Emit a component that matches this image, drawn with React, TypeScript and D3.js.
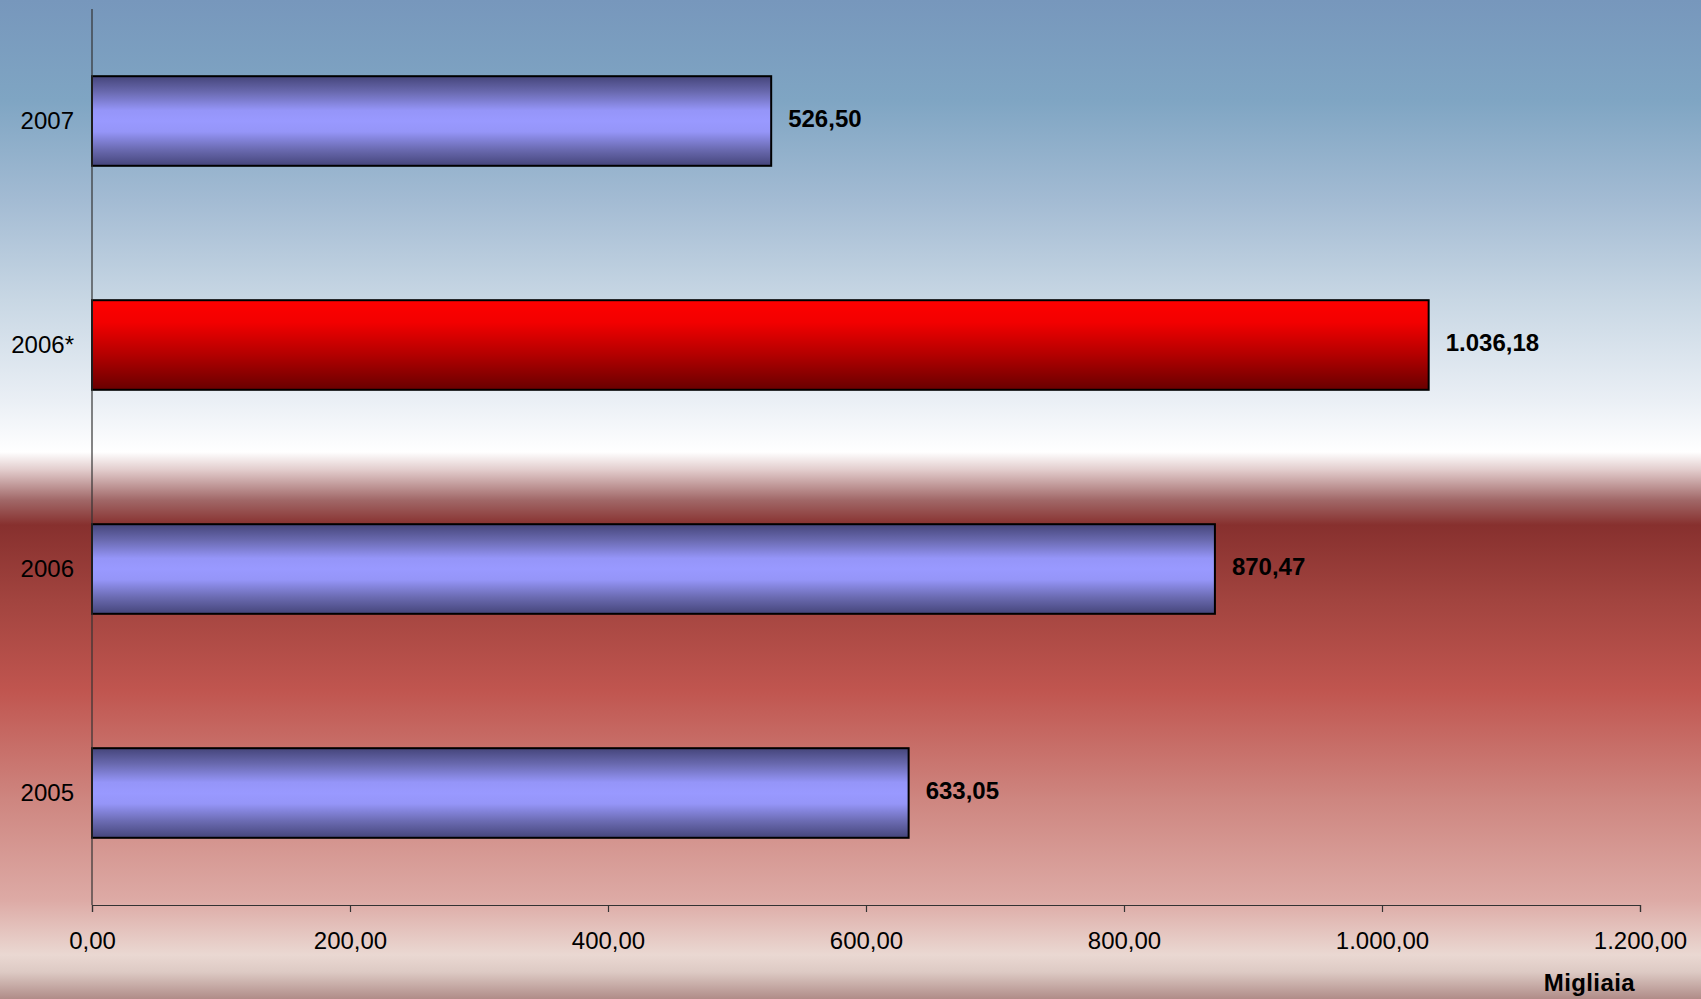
import React, { useEffect, useRef } from 'react';
import * as d3 from 'd3';

const categories = ['2007', '2006*', '2006', '2005'];
const values = [526.5, 1036.18, 870.47, 633.05];
const highlighted = ['2006*'];
const xTicks = [0, 200, 400, 600, 800, 1000, 1200];
const unitLabel = 'Migliaia';

const WIDTH = 1701;
const HEIGHT = 999;
const FONT = '"Liberation Sans", Arial, Helvetica, sans-serif';

// Italian number format: 1.036,18
const itFormat = d3.formatLocale({
  decimal: ',',
  thousands: '.',
  grouping: [3],
  currency: ['€', ''],
}).format(',.2f');

const BG_STOPS: [number, string][] = [
  [0, '#7797bc'],
  [100, '#7fa5c3'],
  [200, '#a3bbd3'],
  [300, '#c8d7e4'],
  [400, '#eaeff5'],
  [452, '#ffffff'],
  [470, '#e2cccc'],
  [500, '#a16868'],
  [525, '#87302e'],
  [600, '#a2443f'],
  [690, '#c0554f'],
  [800, '#ce8680'],
  [900, '#ddaaa5'],
  [955, '#ead8d2'],
  [972, '#ddcac4'],
  [999, '#b08c88'],
];

const App: React.FC = () => {
  const ref = useRef<SVGSVGElement>(null);

  useEffect(() => {
    if (!ref.current) return;
    const svg = d3.select(ref.current);
    svg.selectAll('*').remove();

    const margin = { top: 9, right: 61, bottom: 94, left: 92 };
    const innerW = WIDTH - margin.left - margin.right;
    const innerH = HEIGHT - margin.top - margin.bottom;

    const defs = svg.append('defs');

    const bg = defs
      .append('linearGradient')
      .attr('id', 'bg-grad')
      .attr('x1', 0)
      .attr('x2', 0)
      .attr('y1', 0)
      .attr('y2', 1);
    BG_STOPS.forEach(([y, c]) => {
      bg.append('stop').attr('offset', `${(y / HEIGHT) * 100}%`).attr('stop-color', c);
    });

    const blue = defs
      .append('linearGradient')
      .attr('id', 'bar-blue')
      .attr('x1', 0)
      .attr('x2', 0)
      .attr('y1', 0)
      .attr('y2', 1);
    [
      [0, '#45457a'],
      [0.18, '#6a6ab0'],
      [0.38, '#9595f8'],
      [0.5, '#9999ff'],
      [0.62, '#9595f8'],
      [0.82, '#6a6ab0'],
      [1, '#45457a'],
    ].forEach(([o, c]) => blue.append('stop').attr('offset', o as number).attr('stop-color', c as string));

    const red = defs
      .append('linearGradient')
      .attr('id', 'bar-red')
      .attr('x1', 0)
      .attr('x2', 0)
      .attr('y1', 0)
      .attr('y2', 1);
    [
      [0, '#ff0000'],
      [0.25, '#f20000'],
      [0.6, '#b50000'],
      [1, '#680000'],
    ].forEach(([o, c]) => red.append('stop').attr('offset', o as number).attr('stop-color', c as string));

    svg.append('rect').attr('width', WIDTH).attr('height', HEIGHT).attr('fill', 'url(#bg-grad)');

    const x = d3.scaleLinear().domain([0, 1200]).range([0, innerW]);
    const y = d3.scaleBand().domain(categories).range([0, innerH]).paddingInner(0.6).paddingOuter(0.3);

    const g = svg.append('g').attr('transform', `translate(${margin.left},${margin.top})`);

    const rows = categories.map((c, i) => ({ cat: c, value: values[i] }));

    g.selectAll('rect.bar')
      .data(rows)
      .enter()
      .append('rect')
      .attr('class', 'bar')
      .attr('x', 0)
      .attr('y', (d) => y(d.cat)!)
      .attr('width', (d) => x(d.value))
      .attr('height', y.bandwidth())
      .attr('fill', (d) => (highlighted.includes(d.cat) ? 'url(#bar-red)' : 'url(#bar-blue)'))
      .attr('stroke', '#000')
      .attr('stroke-width', 2);

    g.selectAll('text.val')
      .data(rows)
      .enter()
      .append('text')
      .attr('class', 'val')
      .attr('x', (d) => x(d.value) + 17)
      .attr('y', (d) => y(d.cat)! + y.bandwidth() / 2 - 2)
      .attr('dy', '0.35em')
      .style('font-family', FONT)
      .style('font-size', '24px')
      .style('font-weight', 'bold')
      .attr('fill', '#000')
      .text((d) => itFormat(d.value));

    // y axis line + category labels
    g.append('line')
      .attr('x1', 0)
      .attr('x2', 0)
      .attr('y1', 0)
      .attr('y2', innerH)
      .attr('stroke', '#333')
      .attr('stroke-width', 1.2);

    g.selectAll('text.cat')
      .data(categories)
      .enter()
      .append('text')
      .attr('class', 'cat')
      .attr('x', -18)
      .attr('y', (d) => y(d)! + y.bandwidth() / 2)
      .attr('dy', '0.35em')
      .attr('text-anchor', 'end')
      .style('font-family', FONT)
      .style('font-size', '24px')
      .attr('fill', '#000')
      .text((d) => d);

    // x axis
    const xAxis = g
      .append('g')
      .attr('transform', `translate(0,${innerH})`)
      .call(
        d3
          .axisBottom(x)
          .tickValues(xTicks)
          .tickSize(7)
          .tickPadding(20)
          .tickFormat((d) => itFormat(d as number))
      );
    xAxis.select('.domain').attr('stroke', '#333').attr('stroke-width', 1.2);
    xAxis.selectAll('.tick line').attr('stroke', '#333').attr('stroke-width', 1.2);
    xAxis
      .selectAll('.tick text')
      .attr('fill', '#000')
      .style('font-family', FONT)
      .style('font-size', '24px');

    svg
      .append('text')
      .attr('x', 1635)
      .attr('y', 991)
      .attr('text-anchor', 'end')
      .style('font-family', FONT)
      .style('font-size', '24px')
      .style('font-weight', 'bold')
      .style('letter-spacing', '0.4px')
      .attr('fill', '#000')
      .text(unitLabel);
  }, []);

  return (
    <svg
      ref={ref}
      width={WIDTH}
      height={HEIGHT}
      style={{ position: 'absolute', left: 0, top: 0, display: 'block' }}
    />
  );
};

export default App;
